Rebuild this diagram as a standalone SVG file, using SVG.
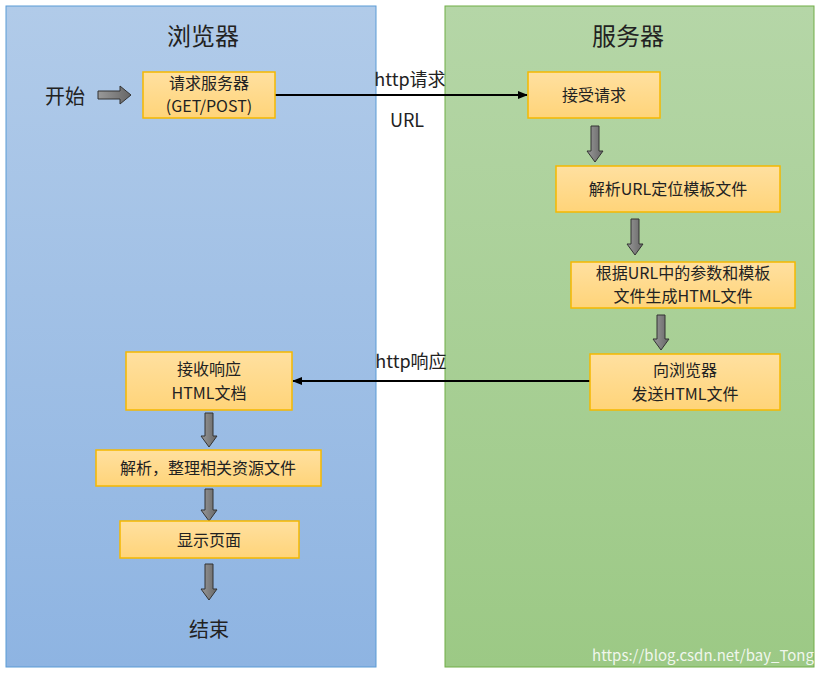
<svg xmlns="http://www.w3.org/2000/svg" width="821" height="674" viewBox="0 0 821 674">
<style>
text{font-family:"Noto Sans CJK SC","Noto Sans",sans-serif;fill:#222;text-anchor:middle}
.n{fill:url(#ng);stroke:#f5b800;stroke-width:1.5}
.t{font-size:16px}
.ba{fill:url(#ag);stroke:#333;stroke-width:1}
.ln{stroke:#000;stroke-width:2;fill:none;marker-end:url(#ah)}
</style>
<defs>
<linearGradient id="bg" x1="0" y1="0" x2="0" y2="1"><stop offset="0" stop-color="#b1cbe9"/><stop offset="1" stop-color="#8eb4e2"/></linearGradient>
<linearGradient id="gg" x1="0" y1="0" x2="0" y2="1"><stop offset="0" stop-color="#b5d6a7"/><stop offset="1" stop-color="#9cc985"/></linearGradient>
<linearGradient id="ng" x1="0" y1="0" x2="0" y2="1"><stop offset="0" stop-color="#ffe0a0"/><stop offset="1" stop-color="#ffd479"/></linearGradient>
<linearGradient id="ag" x1="0" y1="0" x2="1" y2="0"><stop offset="0" stop-color="#999"/><stop offset="1" stop-color="#666"/></linearGradient>
<marker id="ah" markerWidth="10" markerHeight="8" refX="9" refY="4" orient="auto" markerUnits="userSpaceOnUse"><path d="M0,0 L10,4 L0,8 Z" fill="#000"/></marker>
</defs>
<rect x="6" y="6" width="370" height="661" fill="url(#bg)" stroke="#5b9bd5"/>
<rect x="445" y="6" width="369" height="661" fill="url(#gg)" stroke="#70ad47"/>
<text x="203" y="45" font-size="24">浏览器</text>
<text x="628" y="45" font-size="24">服务器</text>
<text x="65" y="104" font-size="20">开始</text>
<text x="209" y="637" font-size="20">结束</text>
<g id="connectors">
<path class="ln" d="M275,95 H527"/>
<path class="ln" d="M590,381 H293"/>
<path class="ba" d="M98,91 H120 V86 L131,95 L120,104 V99 H98 Z"/>
<path class="ba" d="M591,126 H599 V151 H603 L595,162 L587,151 H591 Z"/>
<path class="ba" d="M631,219 H639 V244 H643 L635,255 L627,244 H631 Z"/>
<path class="ba" d="M657,315 H665 V339 H669 L661,350 L653,339 H657 Z"/>
<path class="ba" d="M205,413 H213 V436 H217 L209,447 L201,436 H205 Z"/>
<path class="ba" d="M205,489 H213 V510 H217 L209,521 L201,510 H205 Z"/>
<path class="ba" d="M205,564 H213 V589 H217 L209,600 L201,589 H205 Z"/>
</g>
<text x="410" y="86" font-size="18">http请求</text>
<text x="407" y="127" font-size="18">URL</text>
<text x="411" y="368" font-size="18">http响应</text>
<g id="n1"><rect class="n" x="143" y="72" width="132" height="46"/><text class="t" x="209" y="89">请求服务器</text><text class="t" x="209" y="112">(GET/POST)</text></g>
<g id="n2"><rect class="n" x="528" y="72" width="132" height="46"/><text class="t" x="594" y="101">接受请求</text></g>
<g id="n3"><rect class="n" x="556" y="166" width="224" height="46"/><text class="t" x="668" y="195">解析URL定位模板文件</text></g>
<g id="n4"><rect class="n" x="571" y="262" width="224" height="46"/><text class="t" x="683" y="279">根据URL中的参数和模板</text><text class="t" x="683" y="302">文件生成HTML文件</text></g>
<g id="n5"><rect class="n" x="590" y="354" width="190" height="56"/><text class="t" x="685" y="376">向浏览器</text><text class="t" x="685" y="400">发送HTML文件</text></g>
<g id="n6"><rect class="n" x="126" y="352" width="166" height="58"/><text class="t" x="209" y="375">接收响应</text><text class="t" x="209" y="399">HTML文档</text></g>
<g id="n7"><rect class="n" x="96" y="450" width="225" height="36"/><text class="t" x="208" y="474">解析，整理相关资源文件</text></g>
<g id="n8"><rect class="n" x="120" y="521" width="179" height="37"/><text class="t" x="209" y="546">显示页面</text></g>
<text x="703" y="661" font-size="15" style="fill:#fff;opacity:0.85">https://blog.csdn.net/bay_Tong</text>
</svg>
